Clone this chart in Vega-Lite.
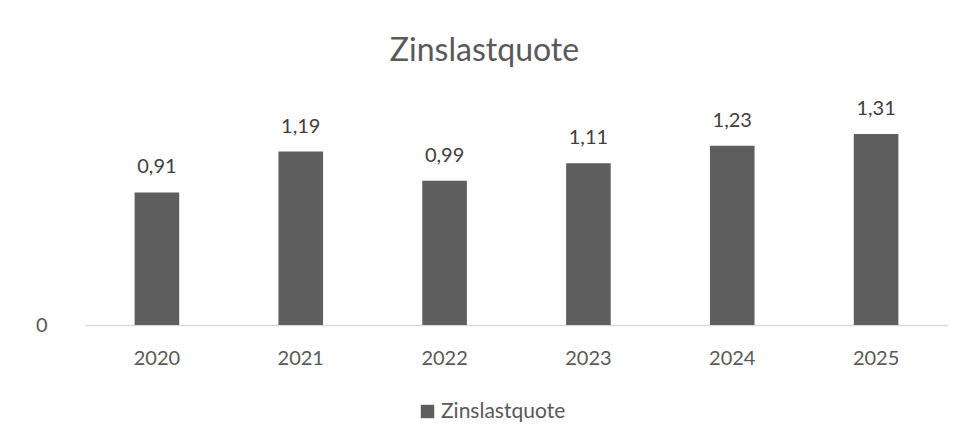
{
  "$schema": "https://vega.github.io/schema/vega-lite/v6.json",
  "autosize": "none",
  "width": 863,
  "height": 204,
  "padding": {"left": 85, "top": 121, "right": 22, "bottom": 123},
  "background": "white",
  "config": {
    "view": {"stroke": null},
    "font": "Lato",
    "locale": {"number": {"decimal": ",", "thousands": ".", "grouping": [3], "currency": ["", " €"]}}
  },
  "title": {
    "text": "Zinslastquote",
    "fontSize": 32,
    "fontWeight": "normal",
    "color": "#595959",
    "anchor": "middle",
    "baseline": "alphabetic",
    "dx": -32,
    "offset": 6
  },
  "data": {
    "values": [
      {"Jahr": "2020", "Wert": 0.91, "Serie": "Zinslastquote"},
      {"Jahr": "2021", "Wert": 1.19, "Serie": "Zinslastquote"},
      {"Jahr": "2022", "Wert": 0.99, "Serie": "Zinslastquote"},
      {"Jahr": "2023", "Wert": 1.11, "Serie": "Zinslastquote"},
      {"Jahr": "2024", "Wert": 1.23, "Serie": "Zinslastquote"},
      {"Jahr": "2025", "Wert": 1.31, "Serie": "Zinslastquote"}
    ]
  },
  "encoding": {
    "x": {
      "field": "Jahr",
      "type": "nominal",
      "scale": {"paddingInner": 0.69, "paddingOuter": 0.345},
      "axis": {
        "title": null,
        "labelAngle": 0,
        "labelFontSize": 20,
        "labelColor": "#595959",
        "labelPadding": 23,
        "ticks": false,
        "domainColor": "#d9d9d9",
        "domainWidth": 1.5
      }
    },
    "y": {
      "field": "Wert",
      "type": "quantitative",
      "scale": {"domain": [0, 1.4], "nice": false},
      "axis": {
        "title": null,
        "values": [0],
        "grid": false,
        "domain": false,
        "ticks": false,
        "labelFontSize": 20,
        "labelColor": "#595959",
        "labelPadding": 38
      }
    }
  },
  "layer": [
    {
      "mark": {"type": "bar", "color": "#5e5e5e"},
      "encoding": {
        "color": {
          "field": "Serie",
          "type": "nominal",
          "scale": {"range": ["#5e5e5e"]},
          "legend": {
            "title": null,
            "orient": "none",
            "legendX": 332,
            "legendY": 280,
            "symbolType": "square",
            "symbolSize": 180,
            "symbolStrokeWidth": 0,
            "labelFontSize": 21,
            "labelColor": "#595959",
            "labelOffset": 3
          }
        }
      }
    },
    {
      "mark": {"type": "text", "dy": -19, "baseline": "alphabetic", "fontSize": 20, "color": "#404040"},
      "encoding": {
        "text": {"field": "Wert", "type": "quantitative", "format": ".2f"}
      }
    }
  ]
}
